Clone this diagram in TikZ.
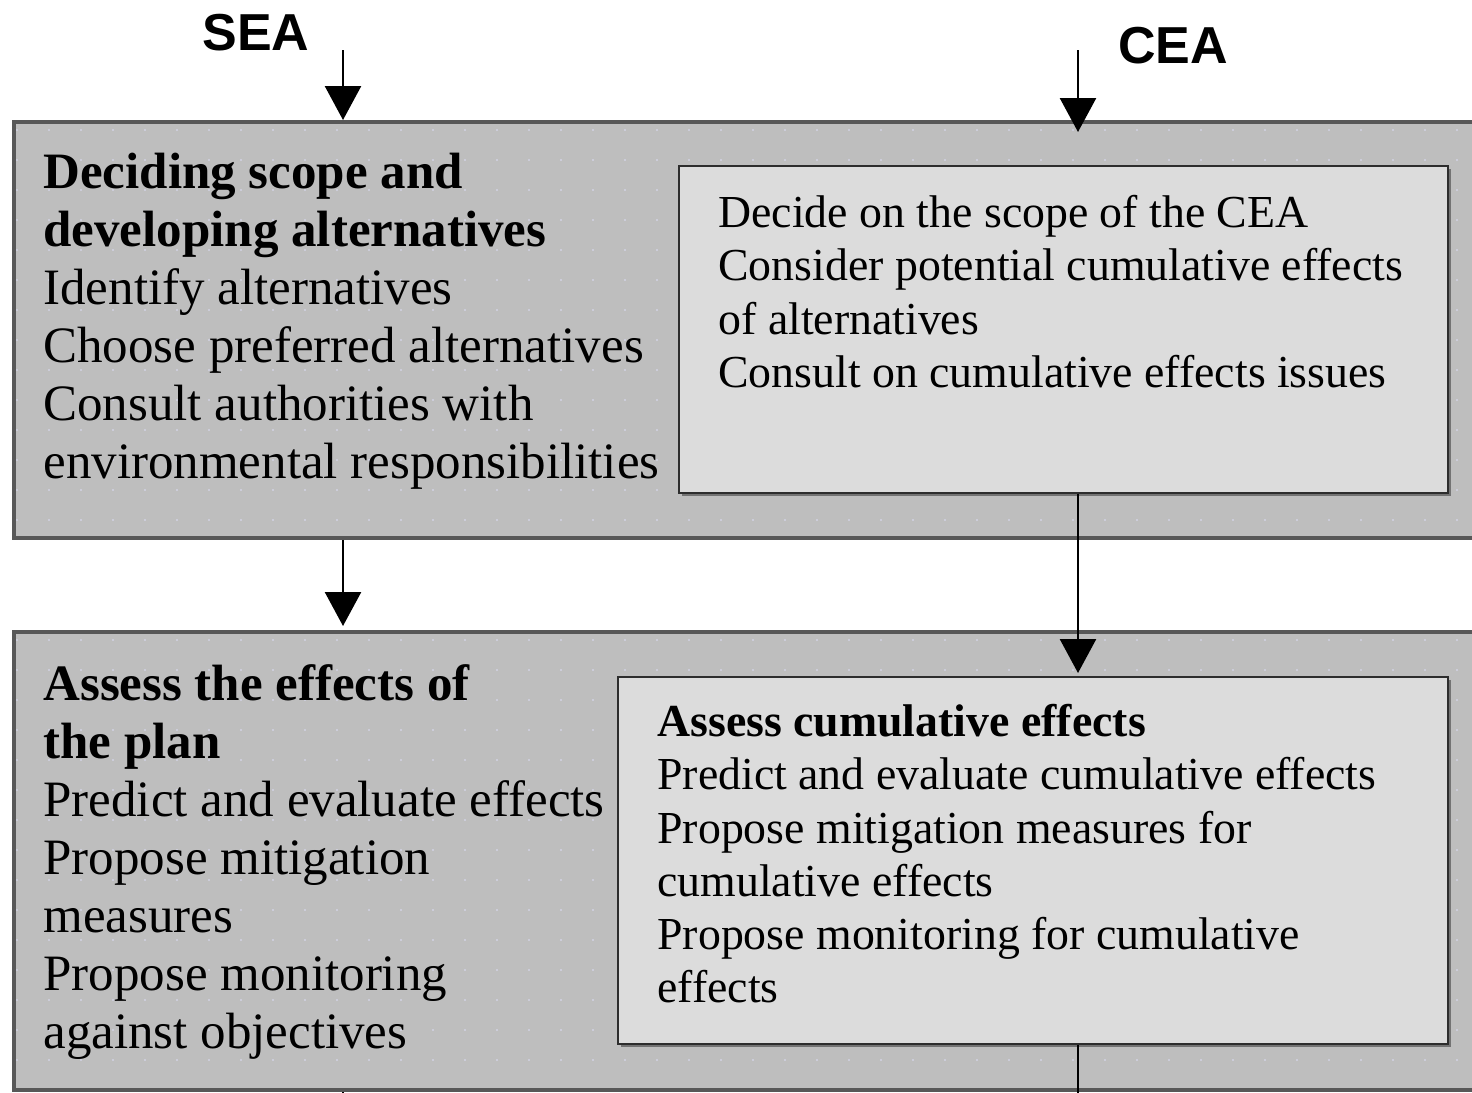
\documentclass[tikz,border=0pt]{standalone}
\usepackage{fontspec}
\setmainfont{Liberation Serif}
\newfontfamily\labelfont{Liberation Sans}
\usetikzlibrary{arrows.meta,calc}

\definecolor{bandfill}{RGB}{190,190,190}
\definecolor{bandline}{RGB}{88,88,88}
\definecolor{boxfill}{RGB}{220,220,220}
\definecolor{boxline}{RGB}{45,45,45}
\definecolor{gridline}{RGB}{205,205,218}

\tikzset{
  band/.style={draw=bandline, line width=2pt, fill=bandfill, rectangle,
    anchor=north west, inner sep=0pt},
  stagebox/.style={draw=boxline, line width=1.1pt, fill=boxfill, rectangle,
    anchor=north west, inner sep=0pt},
  shade/.style={fill=black!55, draw=none},
  bigtext/.style={font=\fontsize{25.5pt}{29pt}\selectfont, align=left,
    anchor=north west, inner sep=0pt},
  smalltext/.style={font=\fontsize{22.9pt}{26.6pt}\selectfont, align=left,
    anchor=north west, inner sep=0pt},
  headlabel/.style={font=\labelfont\bfseries\fontsize{26pt}{30pt}\selectfont,
    inner sep=0pt},
  flow/.style={line width=1.3pt, -{Triangle[width=18pt,length=17pt]}},
  plainflow/.style={line width=1.3pt},
  gridrow/.style={gridline, line width=1pt, dash pattern=on 1pt off 15pt}
}

\begin{document}
\begin{tikzpicture}[x=0.5pt,y=-0.5pt]
  \useasboundingbox[fill=white] (0,0) rectangle (1472,1092);

  % stage bands (running past the right edge)
  \node[band, minimum width=740pt, minimum height=208pt] (band1) at (12,120) {};
  \node[band, minimum width=740pt, minimum height=229pt] (band2) at (12,630) {};

  % faint dotted ruling on the bands
  \foreach \y in {130,160,190,220,250,280,310,340,370,400,430,460,490,520}
    \draw[gridrow] (16,\y) -- (1472,\y);
  \foreach \y in {640,670,700,730,760,790,820,850,880,910,940,970,1000,1030,1060}
    \draw[gridrow] (16,\y) -- (1472,\y);

  % CEA boxes with a small drop shadow
  \fill[shade] (682,169) rectangle (1451,496);
  \node[stagebox, minimum width=384.5pt, minimum height=163.5pt] (cea1) at (678,165) {};
  \fill[shade] (621,680) rectangle (1451,1047);
  \node[stagebox, minimum width=415pt, minimum height=183.5pt] (cea2) at (617,676) {};

  % column headings
  \node[headlabel] (sea) at (256,33) {SEA};
  \node[headlabel] (cea) at (1173,46) {CEA};
  \coordinate (seain) at (343,50);
  \coordinate (ceain) at (1078,50);

  % SEA stage texts
  \node[bigtext] (sea1) at (43,153) {\textbf{Deciding scope and}\\
    \textbf{developing alternatives}\\
    Identify alternatives\\
    Choose preferred alternatives\\
    Consult authorities with\\
    environmental responsibilities};
  \node[bigtext] (sea2) at (43,664) {\textbf{Assess the effects of}\\
    \textbf{the plan}\\
    Predict and evaluate effects\\
    Propose mitigation\\
    measures\\
    Propose monitoring\\
    against objectives};

  % CEA stage texts
  \node[smalltext] (ceatext1) at (718,195) {Decide on the scope of the CEA\\
    Consider potential cumulative effects\\
    of alternatives\\
    Consult on cumulative effects issues};
  \node[smalltext] (ceatext2) at (657,704) {\textbf{Assess cumulative effects}\\
    Predict and evaluate cumulative effects\\
    Propose mitigation measures for\\
    cumulative effects\\
    Propose monitoring for cumulative\\
    effects};

  % flow arrows
  \draw[flow] (seain) -- (seain |- band1.north);
  \draw[flow] (ceain) -- ($(ceain |- band1.north)+(0,12)$);
  \draw[flow] (seain |- band1.south) -- ($(seain |- band2.north)+(0,-4)$);
  \draw[flow] (ceain |- cea1.south) -- ($(ceain |- cea2.north)+(0,-3)$);
  \draw[plainflow] (ceain |- cea2.south) -- ($(ceain |- cea2.south)+(0,60)$);
  \draw[plainflow] (seain |- band2.south) -- ($(seain |- band2.south)+(0,20)$);
\end{tikzpicture}
\end{document}
